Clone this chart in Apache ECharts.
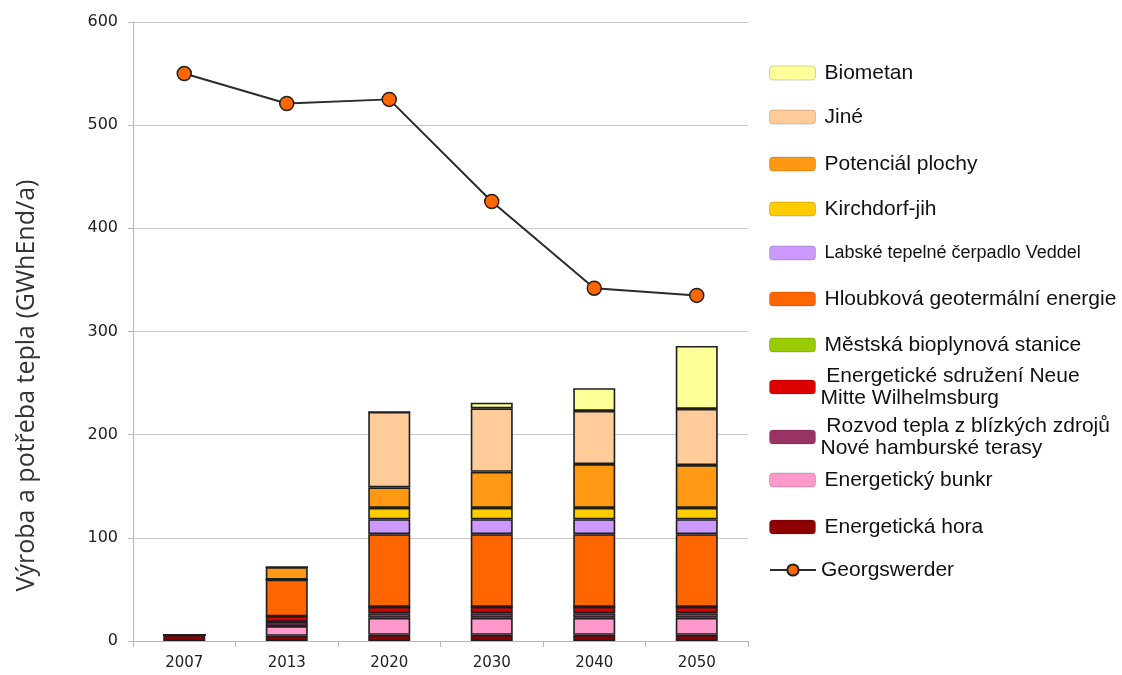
<!DOCTYPE html>
<html>
<head>
<meta charset="utf-8">
<script src="https://cdn.jsdelivr.net/npm/echarts@6/dist/echarts.min.js"></script>
<style>html,body{margin:0;padding:0;background:#fff}#c{width:1122px;height:675px}</style>
</head>
<body>
<div id="c"></div>
<script>
var categories = ['2007', '2013', '2020', '2030', '2040', '2050'];
var yTicks = [0, 100, 200, 300, 400, 500, 600];

var energetickaHora = [6, 5, 6, 6, 6, 6];
var energetickyBunkr = [0, 9.5, 16.5, 16.5, 16.5, 16.5];
var rozvodTepla = [0, 4, 4.5, 4.5, 4.5, 4.5];
var energetickeSdruzeni = [0, 5.5, 6, 6, 6, 6];
var mestskaBioplynova = [0, 0, 0, 0, 0, 0];
var hloubkova = [0, 35.5, 70.5, 70.5, 70.5, 70.5];
var labske = [0, 0, 14.5, 14.5, 14.5, 14.5];
var kirchdorf = [0, 0, 11, 11, 11, 11];
var potencial = [0, 12, 20, 35, 42.5, 41.5];
var jine = [0, 0, 73, 61.5, 51.5, 54.5];
var biometan = [0, 0, 0, 5.5, 22, 61];
var georgswerder = [550, 521, 525, 426, 342, 335];

var stackSeries = [
  {name: 'Energetická hora', data: energetickaHora, color: '#8e0000'},
  {name: 'Energetický bunkr', data: energetickyBunkr, color: '#ff99cc'},
  {name: 'Rozvod tepla z blízkých zdrojů', data: rozvodTepla, color: '#993366', label: ' Rozvod tepla z blízkých zdrojů\nNové hamburské terasy'},
  {name: 'Energetické sdružení', data: energetickeSdruzeni, color: '#dd0000', label: ' Energetické sdružení Neue\nMitte Wilhelmsburg'},
  {name: 'Městská bioplynová stanice', data: mestskaBioplynova, color: '#99cc00'},
  {name: 'Hloubková geotermální energie', data: hloubkova, color: '#ff6600'},
  {name: 'Labské tepelné čerpadlo Veddel', data: labske, color: '#cc99ff'},
  {name: 'Kirchdorf-jih', data: kirchdorf, color: '#ffcc00'},
  {name: 'Potenciál plochy', data: potencial, color: '#ff9914'},
  {name: 'Jiné', data: jine, color: '#ffcc99'},
  {name: 'Biometan', data: biometan, color: '#ffff99'}
];

var series = stackSeries.map(function (s) {
  return {
    name: s.name, type: 'bar', stack: 'total', barWidth: 42, data: s.data,
    itemStyle: {color: s.color, borderColor: '#1e1e1e', borderWidth: 1.6}
  };
});
series.push({
  name: 'Georgswerder', type: 'line', data: georgswerder, z: 10,
  symbol: 'circle', symbolSize: 14,
  lineStyle: {color: '#2b2b2b', width: 2},
  itemStyle: {color: '#ff6600', borderColor: '#222', borderWidth: 1.5}
});

var legendPos = {
  'Biometan': 61, 'Jiné': 105, 'Potenciál plochy': 152, 'Kirchdorf-jih': 197,
  'Labské tepelné čerpadlo Veddel': 243, 'Hloubková geotermální energie': 287,
  'Městská bioplynová stanice': 333, 'Energetické sdružení': 365,
  'Rozvod tepla z blízkých zdrojů': 415, 'Energetický bunkr': 468,
  'Energetická hora': 515, 'Georgswerder': 558
};
var legendFont = 'Liberation Sans, Arial, sans-serif';
var legends = [];
stackSeries.forEach(function (s) {
  var small = s.name === 'Labské tepelné čerpadlo Veddel';
  var multi = !!s.label;
  legends.push({
    left: 769, top: legendPos[s.name], padding: 0, orient: 'vertical',
    data: [s.name], itemWidth: 46, itemHeight: 14, selectedMode: false,
    itemStyle: {borderColor: 'rgba(0,0,0,0.18)', borderWidth: 1},
    formatter: multi ? function () { return s.label; } : undefined,
    textStyle: {
      fontFamily: legendFont,
      fontSize: small ? 18 : 21, color: '#111',
      lineHeight: multi ? 22 : (small ? 20 : 24),
      padding: multi ? 0 : [0, 0, 0, 4]
    }
  });
});
legends.push({
  left: 769, top: legendPos['Georgswerder'], padding: 0,
  data: ['Georgswerder'], itemWidth: 46, itemHeight: 14, selectedMode: false,
  textStyle: {fontFamily: legendFont, fontSize: 21, color: '#111', lineHeight: 24}
});

var chart = echarts.init(document.getElementById('c'), null, {renderer: 'canvas'});
chart.setOption({
  animation: false,
  backgroundColor: '#ffffff',
  legend: legends,
  grid: {left: 133, right: 374, top: 22, bottom: 34, containLabel: false},
  xAxis: {
    type: 'category', data: categories, boundaryGap: true,
    axisLine: {lineStyle: {color: '#b8b8b8', width: 1}},
    axisTick: {show: true, alignWithLabel: false, length: 6, lineStyle: {color: '#b8b8b8'}},
    axisLabel: {margin: 15, fontFamily: 'DejaVu Sans, Verdana, sans-serif', fontSize: 15, color: '#222'}
  },
  yAxis: {
    type: 'value', min: yTicks[0], max: yTicks[yTicks.length - 1], interval: 100,
    name: 'Výroba a potřeba tepla (GWhEnd/a)', nameLocation: 'middle', nameGap: 94,
    nameTextStyle: {fontFamily: 'Open Sans, sans-serif', fontSize: 25, color: '#333', padding: [0, 108, 0, 0]},
    axisLine: {show: true, lineStyle: {color: '#b8b8b8', width: 1}},
    axisTick: {show: true, length: 5, lineStyle: {color: '#b8b8b8'}},
    axisLabel: {margin: 15, fontFamily: 'DejaVu Sans, Verdana, sans-serif', fontSize: 16, color: '#222'},
    splitLine: {lineStyle: {color: '#c8c8c8', width: 1}}
  },
  series: series
});
</script>
</body>
</html>
